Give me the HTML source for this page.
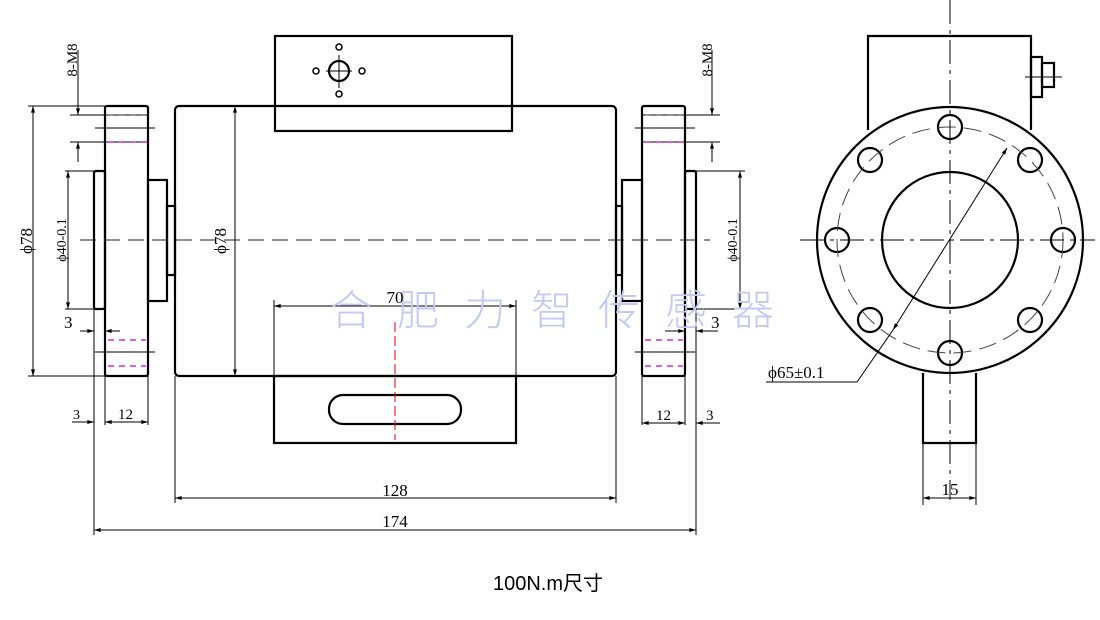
<!DOCTYPE html>
<html><head><meta charset="utf-8"><style>
html,body{margin:0;padding:0;background:#fff;width:1100px;height:620px;overflow:hidden}
svg{display:block}
text{font-family:"Liberation Serif","Noto Serif CJK SC",serif;fill:#000}
</style></head><body>
<svg width="1100" height="620" viewBox="0 0 1100 620" xmlns="http://www.w3.org/2000/svg">
<defs>
<marker id="a" viewBox="0 0 10 6" refX="10" refY="3" markerWidth="10" markerHeight="4" orient="auto-start-reverse" markerUnits="userSpaceOnUse"><path d="M0,0L10,3L0,6z" fill="#000"/></marker>
</defs>
<g fill="none" stroke="#000" stroke-width="2.2">
<rect x="105" y="106" width="43" height="270" rx="2"/>
<rect x="94" y="171" width="11" height="138" rx="2"/>
<rect x="148" y="180" width="19" height="121"/>
<rect x="167" y="206" width="8" height="69"/>
<rect x="175" y="106" width="441" height="270" rx="4"/>
<rect x="275" y="36" width="237" height="95"/>
<rect x="274" y="376" width="242" height="67"/>
<rect x="329" y="395" width="132" height="29" rx="14"/>
<rect x="642" y="106" width="43" height="270" rx="2"/>
<rect x="685" y="171" width="11" height="138" rx="2"/>
<rect x="622" y="180" width="20" height="121"/>
<rect x="616" y="206" width="6" height="69"/>
<circle cx="339" cy="71" r="10"/>
<circle cx="339" cy="47" r="3" stroke-width="1.5"/>
<circle cx="339" cy="94" r="3" stroke-width="1.5"/>
<circle cx="316" cy="71" r="3" stroke-width="1.5"/>
<circle cx="362" cy="71" r="3" stroke-width="1.5"/>
<polyline points="868,130 868,36 1031,36 1031,130"/>
<rect x="1031" y="57" width="11" height="40"/>
<rect x="1042" y="63" width="12" height="24"/>
<circle cx="950" cy="240" r="133" fill="#fff"/>
<circle cx="950" cy="240" r="68"/>
<polyline points="923,373 923,443 976,443 976,373"/>
<circle cx="950" cy="127" r="12"/><circle cx="950" cy="353" r="12"/>
<circle cx="837" cy="240" r="12"/><circle cx="1063" cy="240" r="12"/>
<circle cx="870" cy="160" r="12"/><circle cx="1030" cy="160" r="12"/>
<circle cx="870" cy="320" r="12"/><circle cx="1030" cy="320" r="12"/>
</g>
<g fill="none" stroke="#000" stroke-width="1">
<circle cx="950" cy="240" r="113" stroke-dasharray="18,8" stroke="#444"/>
<line x1="80" y1="240" x2="710" y2="240" stroke-dasharray="16,8" stroke="#222"/>
<line x1="800" y1="240" x2="1095" y2="240" stroke-dasharray="24,6,4,6"/>
<line x1="950" y1="0" x2="950" y2="500" stroke-dasharray="24,6,4,6"/>
<line x1="339" y1="55" x2="339" y2="88"/><line x1="326" y1="71" x2="352" y2="71"/>
<line x1="1025" y1="77" x2="1062" y2="77"/>
<line x1="395" y1="322" x2="395" y2="440" stroke="#e00" stroke-dasharray="10,4"/>
<line x1="1007" y1="148" x2="893" y2="330" marker-start="url(#a)" marker-end="url(#a)"/>
<polyline points="766,382 857,382 893,330"/>
<line x1="28" y1="106" x2="105" y2="106"/><line x1="28" y1="376" x2="105" y2="376"/>
<line x1="33" y1="106" x2="33" y2="376" marker-start="url(#a)" marker-end="url(#a)"/>
<line x1="65" y1="171" x2="94" y2="171"/><line x1="65" y1="309" x2="94" y2="309"/>
<line x1="68" y1="171" x2="68" y2="309" marker-start="url(#a)" marker-end="url(#a)"/>
<line x1="70" y1="115" x2="148" y2="115"/><line x1="95" y1="128" x2="155" y2="128"/><line x1="70" y1="142" x2="148" y2="142"/>
<line x1="78" y1="50" x2="78" y2="115" marker-end="url(#a)"/>
<line x1="78" y1="162" x2="78" y2="142" marker-end="url(#a)"/>
<line x1="95" y1="352" x2="155" y2="352"/>
<line x1="80" y1="331" x2="94" y2="331" marker-end="url(#a)"/><line x1="120" y1="331" x2="105" y2="331" marker-end="url(#a)"/>
<line x1="235" y1="106" x2="235" y2="376" marker-start="url(#a)" marker-end="url(#a)"/>
<line x1="94" y1="309" x2="94" y2="535"/><line x1="105" y1="376" x2="105" y2="425"/><line x1="148" y1="376" x2="148" y2="425"/>
<line x1="72" y1="422" x2="94" y2="422" marker-end="url(#a)"/>
<line x1="105" y1="422" x2="148" y2="422" marker-start="url(#a)" marker-end="url(#a)"/>
<line x1="642" y1="115" x2="720" y2="115"/><line x1="635" y1="128" x2="695" y2="128"/><line x1="642" y1="142" x2="720" y2="142"/>
<line x1="712" y1="50" x2="712" y2="115" marker-end="url(#a)"/>
<line x1="712" y1="162" x2="712" y2="142" marker-end="url(#a)"/>
<line x1="635" y1="352" x2="695" y2="352"/>
<line x1="696" y1="171" x2="745" y2="171"/><line x1="696" y1="309" x2="745" y2="309"/>
<line x1="740" y1="171" x2="740" y2="309" marker-start="url(#a)" marker-end="url(#a)"/>
<line x1="665" y1="331" x2="685" y2="331" marker-end="url(#a)"/><line x1="718" y1="331" x2="696" y2="331" marker-end="url(#a)"/>
<line x1="696" y1="309" x2="696" y2="535"/><line x1="685" y1="376" x2="685" y2="425"/><line x1="642" y1="376" x2="642" y2="425"/>
<line x1="642" y1="423" x2="685" y2="423" marker-start="url(#a)" marker-end="url(#a)"/>
<line x1="720" y1="423" x2="696" y2="423" marker-end="url(#a)"/>
<line x1="274" y1="300" x2="274" y2="376"/><line x1="516" y1="300" x2="516" y2="376"/>
<line x1="274" y1="306" x2="516" y2="306" marker-start="url(#a)" marker-end="url(#a)"/>
<line x1="175" y1="376" x2="175" y2="503"/><line x1="616" y1="376" x2="616" y2="503"/>
<line x1="175" y1="498" x2="616" y2="498" marker-start="url(#a)" marker-end="url(#a)"/>
<line x1="94" y1="530" x2="696" y2="530" marker-start="url(#a)" marker-end="url(#a)"/>
<line x1="923" y1="443" x2="923" y2="505"/><line x1="976" y1="443" x2="976" y2="505"/>
<line x1="923" y1="498" x2="976" y2="498" marker-start="url(#a)" marker-end="url(#a)"/>
</g>
<g stroke="#c0c" stroke-width="1.2" stroke-dasharray="6,5">
<line x1="108" y1="115" x2="146" y2="115" stroke="#555"/><line x1="108" y1="142" x2="146" y2="142"/>
<line x1="108" y1="340" x2="146" y2="340"/><line x1="108" y1="366" x2="146" y2="366"/>
<line x1="645" y1="115" x2="683" y2="115" stroke="#555"/><line x1="645" y1="142" x2="683" y2="142"/>
<line x1="645" y1="340" x2="683" y2="340"/><line x1="645" y1="366" x2="683" y2="366"/>
</g>
<text x="330" y="325" font-size="42" style="fill:#c4c9f4;font-family:'Noto Sans CJK SC',sans-serif;font-weight:300" letter-spacing="25">合肥力智传感器</text>
<g font-size="17">
<text transform="translate(32,241) rotate(-90)" text-anchor="middle">ϕ78</text>
<text transform="translate(226,241) rotate(-90)" text-anchor="middle">ϕ78</text>
<text transform="translate(66,240) rotate(-90)" text-anchor="middle" font-size="14">ϕ40-0.1</text>
<text transform="translate(737,240) rotate(-90)" text-anchor="middle" font-size="14">ϕ40-0.1</text>
<text transform="translate(77,60) rotate(-90)" font-size="15" text-anchor="middle">8-M8</text>
<text transform="translate(712,60) rotate(-90)" font-size="15" text-anchor="middle">8-M8</text>
<text x="64" y="328">3</text>
<text x="73" y="419" font-size="14">3</text>
<text x="118" y="419" font-size="15">12</text>
<text x="656" y="420" font-size="15">12</text>
<text x="706" y="420" font-size="15">3</text>
<text x="711" y="328">3</text>
<text x="395" y="303" text-anchor="middle">70</text>
<text x="395" y="496" text-anchor="middle">128</text>
<text x="395" y="527" text-anchor="middle">174</text>
<text x="950" y="495" text-anchor="middle">15</text>
<text x="768" y="378">ϕ65±0.1</text>
</g>
<text x="548" y="590" font-size="20" text-anchor="middle" style="font-family:'Liberation Sans','Noto Sans CJK SC',sans-serif">100N.m尺寸</text>
</svg>
</body></html>
